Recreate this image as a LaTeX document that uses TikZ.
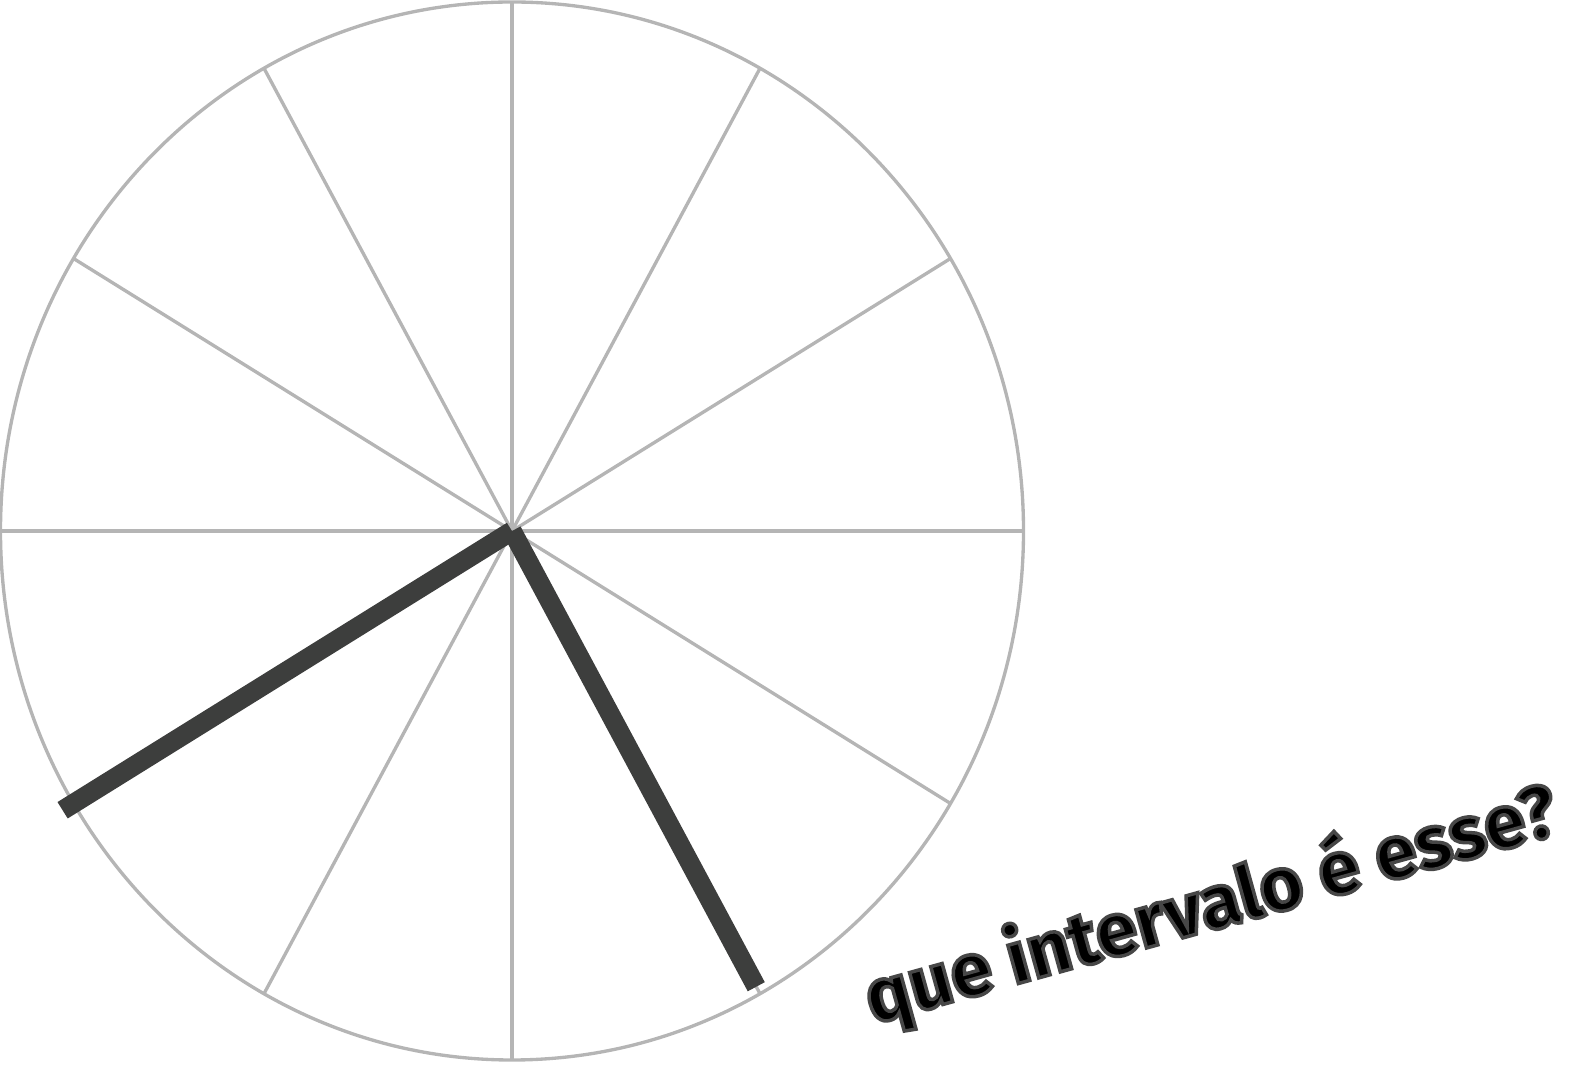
\documentclass[tikz,border=0pt]{standalone}
\usepackage{fontspec}
\setmainfont{Fira Sans}
\usetikzlibrary{calc}
\definecolor{spokegray}{HTML}{B5B5B5}
\definecolor{handgray}{HTML}{3D3E3D}
% black letters with a dark grey rim
\newcommand{\rimtext}[1]{%
  \special{pdf:literal direct 2 Tr 2.0 w 0.28 0.28 0.28 RG 0 g}#1%
  \special{pdf:literal direct 0 Tr}}

\begin{document}
\begin{tikzpicture}[
    spoke/.style={spokegray, line width=1.9pt},
    hand/.style={handgray, line width=11pt},
    question/.style={rotate=15.5, anchor=base west, inner sep=0pt,
      font=\bfseries\fontsize{42.5}{48}\selectfont}
  ]
  \useasboundingbox (0,0) rectangle (31.84,21.36);

  % clock face (slightly taller than wide)
  \coordinate (ctr) at (10.24,10.74);
  \draw[spoke] (ctr) ellipse (10.23 and 10.58);
  \foreach \a in {0,31,61,90,119,149,180,211,241,270,299,329}{
    \coordinate (s\a) at ($(ctr)+(\a:10.23 and 10.58)$);
    \draw[spoke] (ctr) -- (s\a);
  }

  % the two hands
  \coordinate (hA) at ($(ctr)!1.025!(s211)$);
  \coordinate (hB) at ($(ctr)!0.985!(s299)$);
  \draw[hand] (ctr) -- (hA);
  \draw[hand] (ctr) -- (hB);

  % caption
  \node[question] (ask) at (17.45,0.88) {\rimtext{que intervalo é esse?}};

\end{tikzpicture}
\end{document}
